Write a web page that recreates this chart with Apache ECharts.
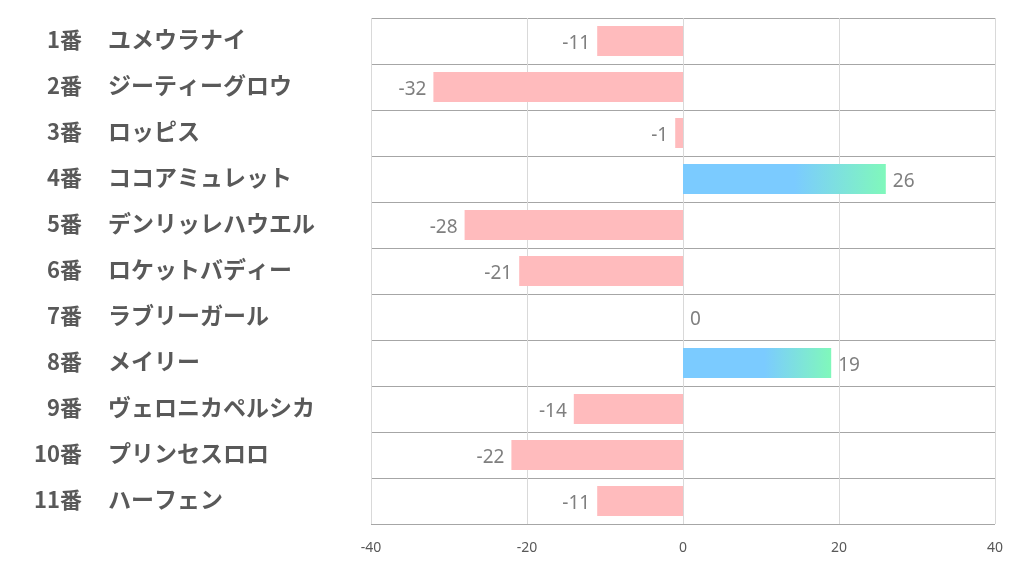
<!DOCTYPE html>
<html>
<head>
<meta charset="utf-8">
<script src="https://cdn.jsdelivr.net/npm/echarts@6/dist/echarts.min.js"></script>
<style>html,body{margin:0;padding:0;background:#fff;}#c{width:1022px;height:574px;}</style>
</head>
<body>
<div id="c"></div>
<script>
const numbers = ['1番','2番','3番','4番','5番','6番','7番','8番','9番','10番','11番'];
const names = ['ユメウラナイ','ジーティーグロウ','ロッピス','ココアミュレット','デンリッレハウエル','ロケットバディー','ラブリーガール','メイリー','ヴェロニカペルシカ','プリンセスロロ','ハーフェン'];
const values = [-11,-32,-1,26,-28,-21,0,19,-14,-22,-11];
const xTicks = [-40,-20,0,20,40];

const chart = echarts.init(document.getElementById('c'));
const posGrad = new echarts.graphic.LinearGradient(0,0,1,0,[
  {offset:0,color:'#7BCBFF'},{offset:0.55,color:'#7BCBFF'},{offset:1,color:'#80F8BB'}]);
function labelRich(size){
  return {t:{fontSize:size,fontWeight:'bold',color:'#595959',fontFamily:'Noto Sans CJK JP',padding:[0,0,3,0]}};
}
chart.setOption({
  animation:false,
  grid:{left:371,right:27,top:18,bottom:50,containLabel:false},
  xAxis:{type:'value',min:xTicks[0],max:xTicks[xTicks.length-1],interval:20,
    axisLine:{show:false},axisTick:{show:false},
    splitLine:{show:true,lineStyle:{color:'#d9d9d9',width:1}},
    axisLabel:{color:'#595959',fontSize:14,margin:17,fontFamily:'Noto Sans'}},
  yAxis:[
    {type:'category',inverse:true,data:numbers,
      axisLine:{show:false},axisTick:{show:false},
      splitLine:{show:true,lineStyle:{color:'#a6a6a6',width:1}},
      axisLabel:{align:'right',margin:289,formatter:v=>'{t|'+v+'}',rich:labelRich(22)}},
    {type:'category',inverse:true,data:names,position:'left',
      axisLine:{show:false},axisTick:{show:false},splitLine:{show:false},
      axisLabel:{align:'left',margin:263,formatter:v=>'{t|'+v+'}',rich:labelRich(23)}}
  ],
  series:[{type:'bar',barWidth:30,yAxisIndex:0,
    data:values.map(v=>({value:v,
      itemStyle:{color:v>0?posGrad:'#FFBBBD'},
      label:{show:true,position:v<0?'left':'right',distance:7,offset:[0,3],color:'#7f7f7f',fontSize:19,fontFamily:'Noto Sans'}}))
  }]
});
</script>
</body>
</html>
